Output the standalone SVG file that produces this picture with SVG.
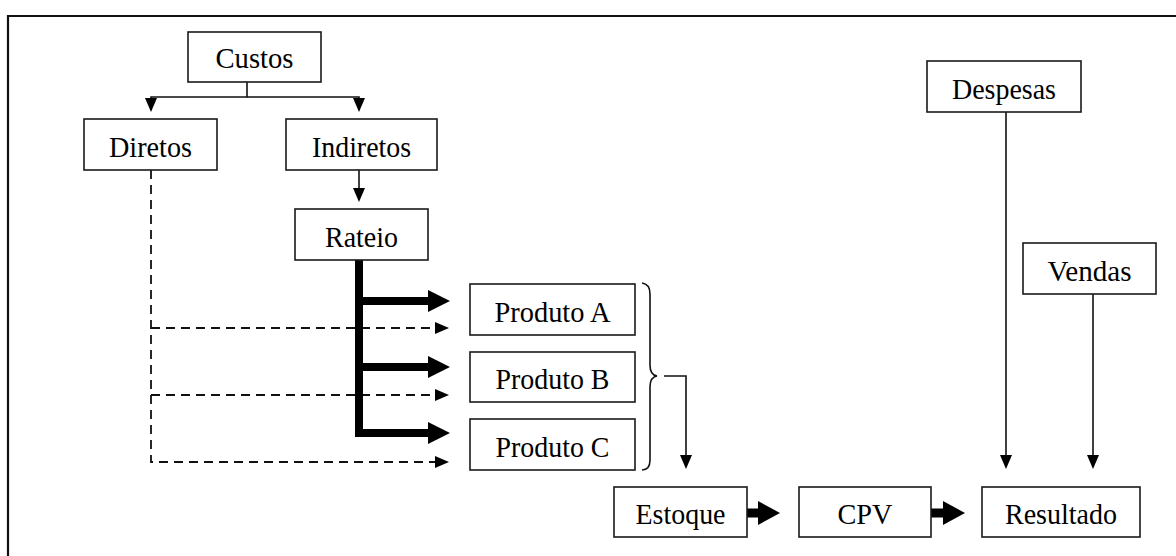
<svg xmlns="http://www.w3.org/2000/svg" width="1176" height="556" viewBox="0 0 1176 556">
<style>
.box{fill:#fff;stroke:#1a1a1a;stroke-width:1.6}
.lbl{font-family:"Liberation Serif","Times New Roman",serif;font-size:30px;fill:#000;text-anchor:middle}
.thin{fill:none;stroke:#111;stroke-width:1.6}
.dash{fill:none;stroke:#111;stroke-width:1.8;stroke-dasharray:9 6}
.thick{fill:none;stroke:#000;stroke-width:8}
.thick2{fill:none;stroke:#000;stroke-width:9}
.frame{fill:none;stroke:#111;stroke-width:2.2}
</style>
<defs>
<marker id="ah" markerUnits="userSpaceOnUse" markerWidth="14" markerHeight="12" viewBox="0 0 14 12" refX="0" refY="6" orient="auto"><path d="M0,0 L14,6 L0,12 z" fill="#000"/></marker>
<marker id="ahk" markerUnits="userSpaceOnUse" markerWidth="22" markerHeight="22" viewBox="0 0 22 22" refX="0" refY="11" orient="auto"><path d="M0,0 L22,11 L0,22 z" fill="#000"/></marker>
<marker id="ahk2" markerUnits="userSpaceOnUse" markerWidth="22" markerHeight="24" viewBox="0 0 22 24" refX="0" refY="12" orient="auto"><path d="M0,0 L22,12 L0,24 z" fill="#000"/></marker>
</defs>
<path class="frame" d="M8,556 V16 H1176"/>
<g id="connectors">
<path class="thin" d="M247,82 V97 H151 V98" marker-end="url(#ah)"/>
<path class="thin" d="M247,97 H359 V98" marker-end="url(#ah)"/>
<path class="thin" d="M359,170 V188" marker-end="url(#ah)"/>
<path class="dash" d="M151,170 V462 H435" marker-end="url(#ah)"/>
<path class="dash" d="M151,328 H435" marker-end="url(#ah)"/>
<path class="dash" d="M151,395 H435" marker-end="url(#ah)"/>
<path class="thick" d="M359,260 V437"/>
<path class="thick" d="M359,301 H428" marker-end="url(#ahk)"/>
<path class="thick" d="M359,367 H428" marker-end="url(#ahk)"/>
<path class="thick" d="M359,433 H428" marker-end="url(#ahk)"/>
<path class="thin" d="M642,283 Q650,284 650,294 V365 Q650,375 657,376 Q650,377 650,387 V460 Q650,470 642,470"/>
<path class="thin" d="M664,376 H686 V455" marker-end="url(#ah)"/>
<path class="thin" d="M1006,112 V455" marker-end="url(#ah)"/>
<path class="thin" d="M1093,294 V455" marker-end="url(#ah)"/>
<path class="thick2" d="M747,513 H758" marker-end="url(#ahk2)"/>
<path class="thick2" d="M931,513 H943" marker-end="url(#ahk2)"/>
</g>
<g id="custos"><rect class="box" x="188" y="32" width="133" height="50"/><text class="lbl" x="254.5" y="68" textLength="78" lengthAdjust="spacingAndGlyphs">Custos</text></g>
<g id="diretos"><rect class="box" x="84" y="119" width="133" height="51"/><text class="lbl" x="150.5" y="157" textLength="83" lengthAdjust="spacingAndGlyphs">Diretos</text></g>
<g id="indiretos"><rect class="box" x="286" y="119" width="151" height="51"/><text class="lbl" x="361.5" y="157" textLength="99" lengthAdjust="spacingAndGlyphs">Indiretos</text></g>
<g id="rateio"><rect class="box" x="295" y="209" width="133" height="51"/><text class="lbl" x="361.5" y="247" textLength="73" lengthAdjust="spacingAndGlyphs">Rateio</text></g>
<g id="produtoA"><rect class="box" x="470" y="284" width="165" height="51"/><text class="lbl" x="552.5" y="322" textLength="116" lengthAdjust="spacingAndGlyphs">Produto A</text></g>
<g id="produtoB"><rect class="box" x="470" y="352" width="165" height="50"/><text class="lbl" x="552.5" y="389" textLength="114" lengthAdjust="spacingAndGlyphs">Produto B</text></g>
<g id="produtoC"><rect class="box" x="470" y="419" width="165" height="51"/><text class="lbl" x="552.5" y="457" textLength="114" lengthAdjust="spacingAndGlyphs">Produto C</text></g>
<g id="estoque"><rect class="box" x="614" y="487" width="133" height="50"/><text class="lbl" x="680.5" y="524" textLength="90" lengthAdjust="spacingAndGlyphs">Estoque</text></g>
<g id="cpv"><rect class="box" x="799" y="487" width="132" height="50"/><text class="lbl" x="865" y="524" textLength="55" lengthAdjust="spacingAndGlyphs">CPV</text></g>
<g id="resultado"><rect class="box" x="982" y="487" width="158" height="50"/><text class="lbl" x="1061" y="524" textLength="112" lengthAdjust="spacingAndGlyphs">Resultado</text></g>
<g id="despesas"><rect class="box" x="927" y="61" width="154" height="51"/><text class="lbl" x="1004" y="99" textLength="104" lengthAdjust="spacingAndGlyphs">Despesas</text></g>
<g id="vendas"><rect class="box" x="1023" y="243" width="133" height="51"/><text class="lbl" x="1089.5" y="281" textLength="84" lengthAdjust="spacingAndGlyphs">Vendas</text></g>
</svg>
